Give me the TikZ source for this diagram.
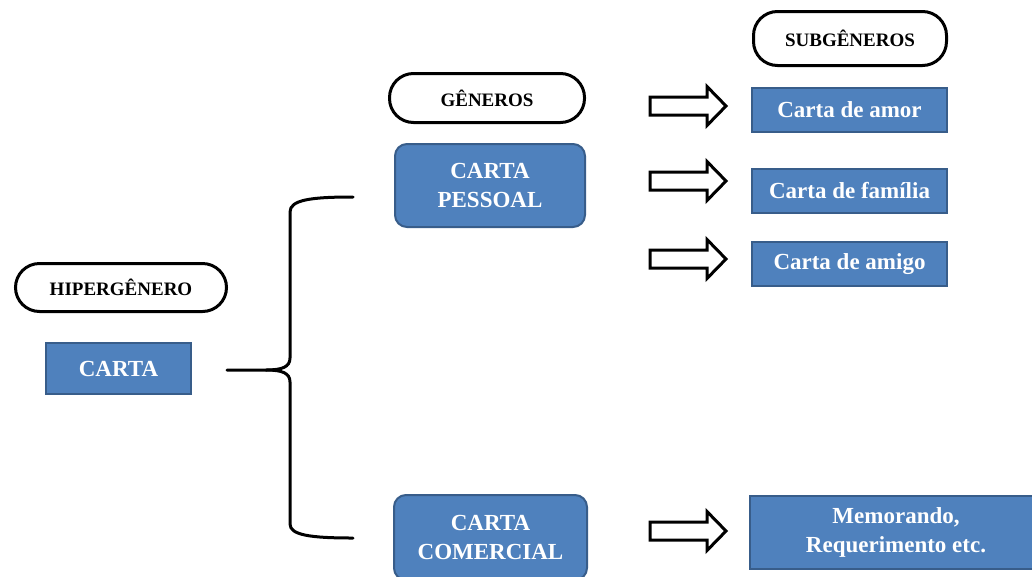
\documentclass[tikz,border=0pt]{standalone}
\usepackage{fontspec}
\setmainfont{Liberation Serif}
\definecolor{boxfill}{HTML}{4F81BD}
\definecolor{boxedge}{HTML}{385D8A}
\begin{document}
\begin{tikzpicture}[x=1pt,y=-1pt,
  capsule/.style={draw=black, line width=3pt, fill=white, rounded corners=24pt,
    inner sep=0pt, font=\fontsize{19}{22}\selectfont\bfseries, text=black},
  bluebox/.style={draw=boxedge, line width=2pt, fill=boxfill, inner sep=0pt,
    text=white, font=\fontsize{23}{28.5}\selectfont\bfseries, align=center},
  roundbox/.style={bluebox, rounded corners=12pt},
  brace/.style={line width=3pt, line cap=round},
  blockarr/.pic={\draw[line width=3pt, fill=white] (0,-9) -- (57,-9) -- (57,-19.5) -- (76,0) -- (57,19.5) -- (57,9) -- (0,9) -- cycle;}
]
\clip (0,0) rectangle (1032,576);
\fill[white] (0,0) rectangle (1032,576);

% labels
\node[capsule, minimum width=211pt, minimum height=48pt] (hiper) at (121,287.5) {HIPERGÊNERO};
\node[capsule, minimum width=195pt, minimum height=49pt] (generos) at (487,98) {GÊNEROS};
\node[capsule, minimum width=193pt, minimum height=54pt] (subgen) at (850,38.5) {SUBGÊNEROS};

% boxes
\node[bluebox, minimum width=145pt, minimum height=51pt] (carta) at (118.5,368.5) {CARTA};
\node[roundbox, minimum width=190pt, minimum height=83pt] (pessoal) at (490,185.5) {CARTA\\PESSOAL};
\node[roundbox, minimum width=193pt, minimum height=85pt] (comercial) at (490.5,537.5) {CARTA\\COMERCIAL};

\node[bluebox, minimum width=195pt, minimum height=44pt] (amor) at (849.5,110) {Carta de amor};
\node[bluebox, minimum width=195pt, minimum height=44pt] (familia) at (849.5,191) {Carta de família};
\node[bluebox, minimum width=195pt, minimum height=44pt] (amigo) at (849.5,264) {Carta de amigo};
\node[bluebox, minimum width=292pt, minimum height=73pt] (memo) at (896,532.5) {Memorando,\\Requerimento etc.};

% block arrows
\pic at (650,106) {blockarr};
\pic at (650,181) {blockarr};
\pic at (650,259) {blockarr};
\pic at (650,531) {blockarr};

% brace
\coordinate (bstart) at (227,370);
\coordinate (btip) at (266,370);
\coordinate (btop) at (353,197);
\coordinate (bbot) at (353,538);
\draw[brace] (bstart) -- (btip)
  .. controls (282,370) and (290,367) .. (290,358) -- (290,212)
  .. controls (290,200) and (310,197) .. (btop);
\draw[brace] (btip)
  .. controls (282,370) and (290,373) .. (290,382) -- (290,524)
  .. controls (290,535) and (310,538) .. (bbot);
\end{tikzpicture}
\end{document}
